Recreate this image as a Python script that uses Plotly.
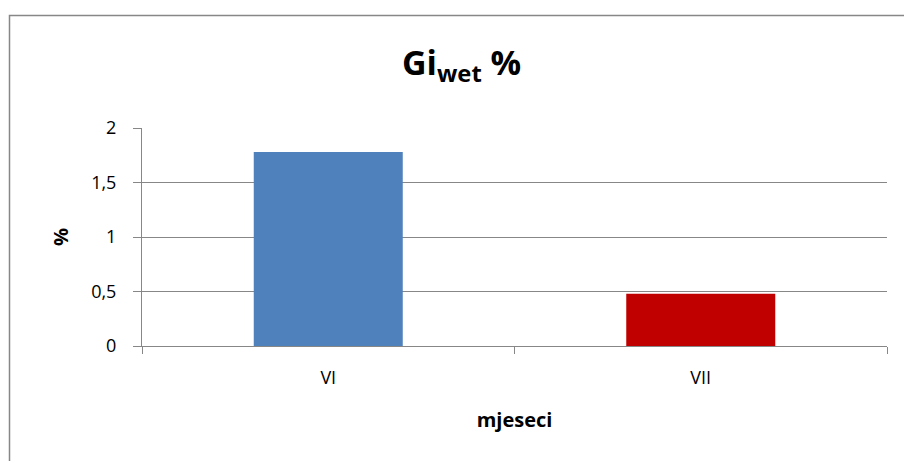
import plotly.graph_objects as go

categories = ["VI", "VII"]
values = [1.78, 0.48]
bar_colors = ["#4F81BD", "#C00000"]
y_ticks = [0, 0.5, 1, 1.5, 2]

W, H = 904, 461
L, R, T, B = 142, 17, 128, 115
pw, ph = W - L - R, H - T - B

def px(x):
    return (x - L) / pw

def py(y):
    return (H - B - y) / ph

grid = "#878787"
font = "Open Sans, Liberation Sans, sans-serif"

fig = go.Figure(go.Bar(x=categories, y=values, marker=dict(color=bar_colors, line=dict(width=0)), width=0.4))

fig.update_layout(
    width=W, height=H,
    margin=dict(l=L, r=R, t=T, b=B, autoexpand=False),
    paper_bgcolor="white", plot_bgcolor="white",
    separators=", ",
    showlegend=False,
    font=dict(family=font, size=18, color="black"),
)
fig.update_xaxes(
    showline=True, linecolor=grid, linewidth=1,
    ticks="outside", tickson="boundaries", ticklen=7, tickcolor=grid, tickwidth=1,
    showgrid=False, tickfont=dict(size=18), ticklabelstandoff=15,
    title=dict(text="<b>mjeseci</b>", font=dict(size=20), standoff=25),
)
fig.update_yaxes(
    range=[0, 2], tickvals=y_ticks, ticktext=[str(v).replace(".", ",") if v % 1 else str(int(v)) for v in y_ticks],
    showline=True, linecolor=grid, linewidth=1,
    ticks="outside", ticklen=8, tickcolor=grid, tickwidth=1,
    showgrid=True, gridcolor=grid, gridwidth=1,
    zeroline=False, tickfont=dict(size=18), ticklabelstandoff=13,
    title=None,
)

fig.add_annotation(text="<b>%</b>", textangle=-90, x=px(60), y=py(237), xref="paper", yref="paper",
                   showarrow=False, font=dict(size=20), xanchor="center", yanchor="middle")
fig.add_annotation(text="<b>Gi<sub>wet</sub> %</b>", x=px(461), y=py(64), xref="paper", yref="paper",
                   showarrow=False, font=dict(size=34), xanchor="center", yanchor="middle")

fig.add_shape(type="rect", xref="paper", yref="paper", x0=px(9.5), y0=py(15.5), x1=1.5, y1=-1.5,
              line=dict(color="#878787", width=1.5), fillcolor="rgba(0,0,0,0)", layer="below")

fig.write_html("out.html", config={"displayModeBar": False},
               post_script="document.body.style.margin='0';document.body.style.overflow='hidden';")
